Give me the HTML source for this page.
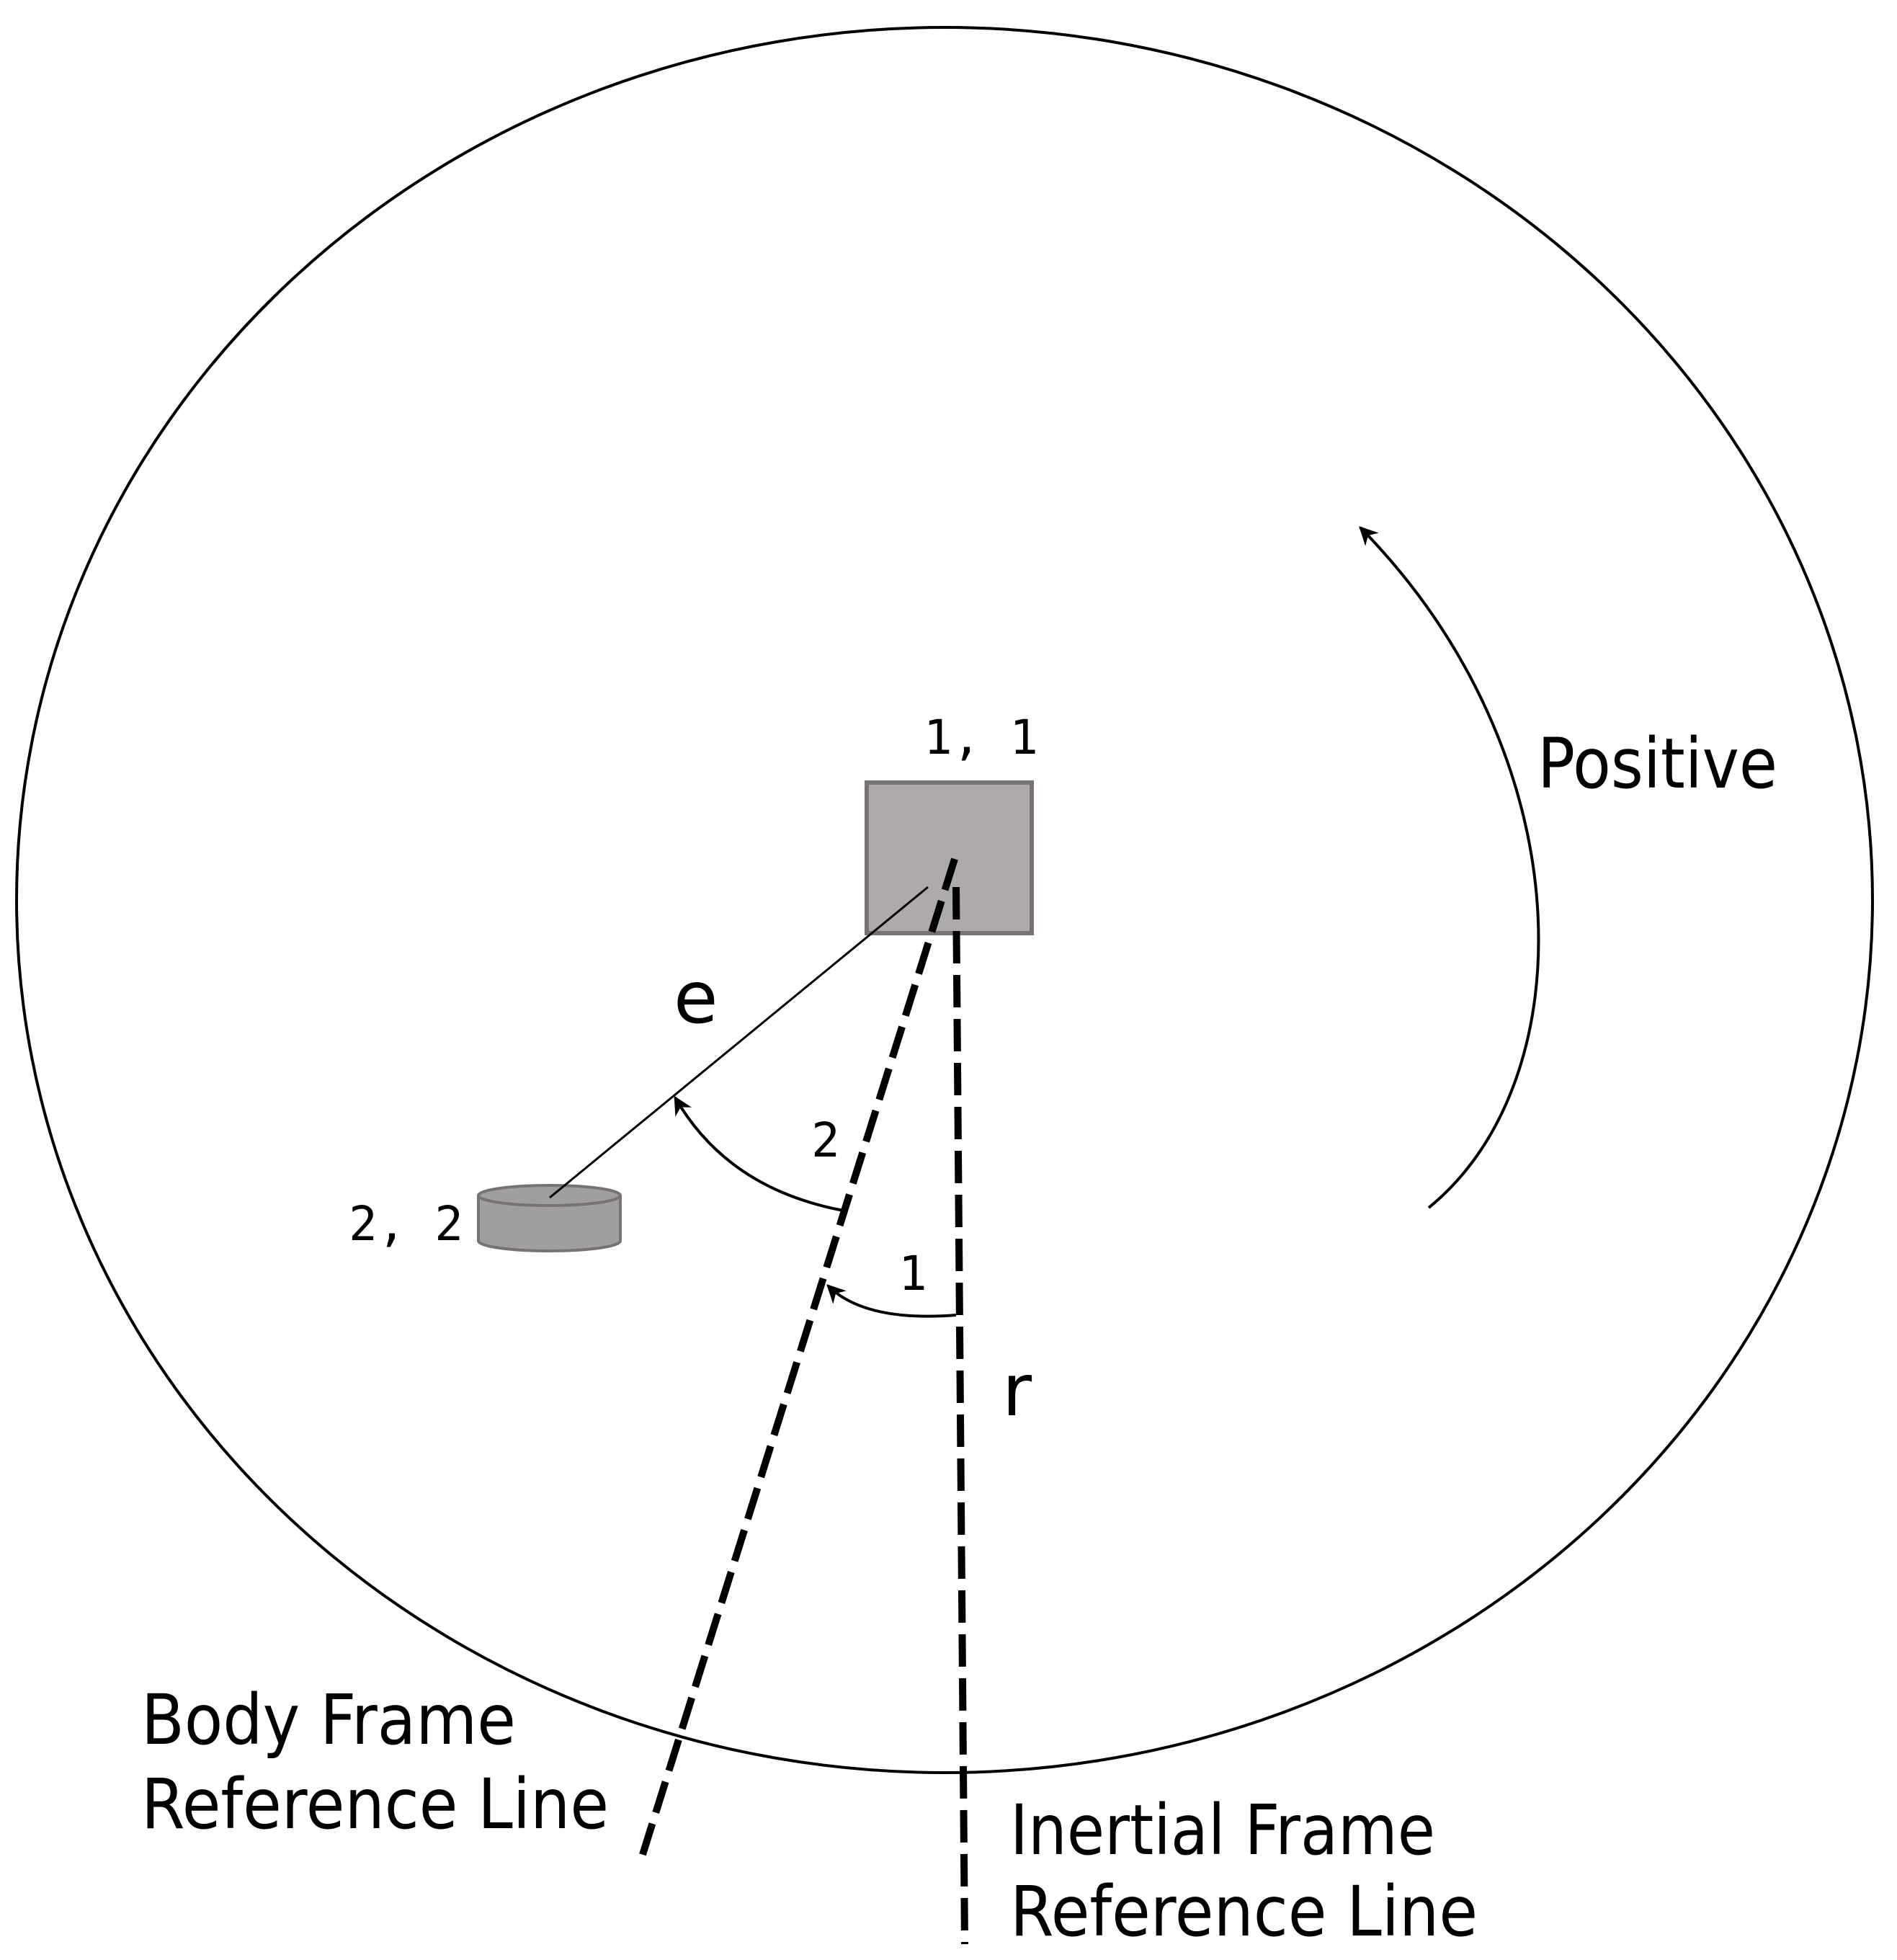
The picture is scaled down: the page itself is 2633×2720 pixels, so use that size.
<!DOCTYPE html>
<html><head><meta charset="utf-8"><style>
html,body{margin:0;padding:0;background:#fff;}
svg{display:block;}
text{font-family:"DejaVu Sans","Liberation Sans",sans-serif;fill:#000;}
.mono{font-family:"DejaVu Sans Mono","Liberation Mono",monospace;}
</style></head><body>
<svg width="2633" height="2720" viewBox="0 0 2633 2720" xmlns="http://www.w3.org/2000/svg">
<defs>
<marker id="ah2" viewBox="0 0 20 20" refX="18" refY="10" markerWidth="26" markerHeight="26" markerUnits="userSpaceOnUse" orient="auto">
<path d="M0,0 L20,10 L0,20 L6,10 Z" fill="#000"/>
</marker>
</defs>
<ellipse cx="1311" cy="1249" rx="1288" ry="1211" fill="none" stroke="#000" stroke-width="4"/>
<rect x="1203" y="1086" width="229" height="209" fill="#aeaaaa" stroke="#777373" stroke-width="6"/>
<path d="M664,1659 L664,1722 A98.5,14 0 0 0 861,1722 L861,1659" fill="#a09e9e" stroke="#777373" stroke-width="4"/>
<ellipse cx="762.5" cy="1659" rx="98.5" ry="14" fill="#a09e9e" stroke="#777373" stroke-width="4"/>
<line x1="1288" y1="1231" x2="763" y2="1662" stroke="#000" stroke-width="3"/>
<line x1="1327" y1="1231" x2="1339" y2="2698" stroke="#000" stroke-width="10" stroke-dasharray="45,16"/>
<line x1="1325" y1="1192" x2="890" y2="2580" stroke="#000" stroke-width="10" stroke-dasharray="45,16"/>
<path d="M1983,1676 C2200,1500 2200,1050 1888,732" fill="none" stroke="#000" stroke-width="4" marker-end="url(#ah2)"/>
<path d="M1171,1680 Q1010,1650 937,1523" fill="none" stroke="#000" stroke-width="4" marker-end="url(#ah2)"/>
<path d="M1327,1825 Q1200,1835 1149,1784" fill="none" stroke="#000" stroke-width="4" marker-end="url(#ah2)"/>
<text class="mono" x="1282" y="1046" font-size="66">1, 1</text>
<text class="mono" x="484" y="1721" font-size="66">2, 2</text>
<text class="mono" x="1126" y="1605" font-size="66">2</text>
<text class="mono" x="1247" y="1790" font-size="66">1</text>
<text x="935" y="1419" font-size="100">e</text>
<text x="1391" y="1964" font-size="100">r</text>
<text x="2134" y="1093" font-size="96" textLength="333" lengthAdjust="spacingAndGlyphs">Positive</text>
<text x="196" y="2420" font-size="96" textLength="520" lengthAdjust="spacingAndGlyphs">Body Frame</text>
<text x="196" y="2537" font-size="96" textLength="649" lengthAdjust="spacingAndGlyphs">Reference Line</text>
<text x="1402" y="2573" font-size="96" textLength="590" lengthAdjust="spacingAndGlyphs">Inertial Frame</text>
<text x="1402" y="2686" font-size="96" textLength="649" lengthAdjust="spacingAndGlyphs">Reference Line</text>
</svg>
</body></html>
